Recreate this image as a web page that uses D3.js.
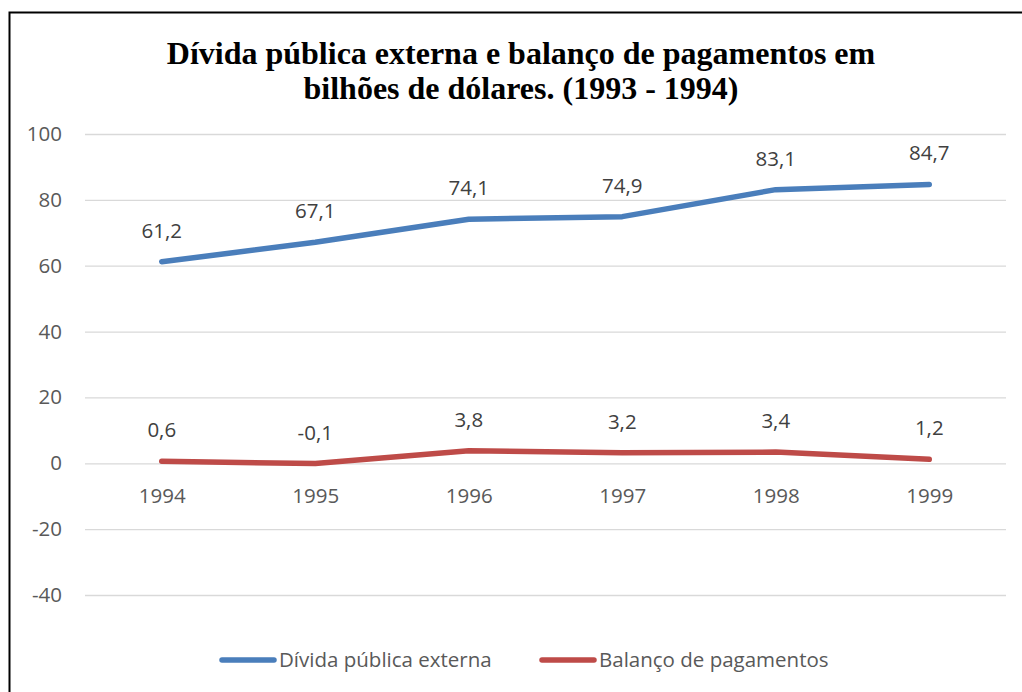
<!DOCTYPE html>
<html><head><meta charset="utf-8">
<script src="https://cdn.jsdelivr.net/npm/d3@7"></script>
<style>
html,body{margin:0;padding:0;background:#fff;}
svg{display:block;}
</style></head>
<body>
<svg id="chart" width="1022" height="692"></svg>
<script>
const years = ["1994","1995","1996","1997","1998","1999"];
const divida = [61.2, 67.1, 74.1, 74.9, 83.1, 84.7];
const balanco = [0.6, -0.1, 3.8, 3.2, 3.4, 1.2];
const yTicks = [-40, -20, 0, 20, 40, 60, 80, 100];
const seriesNames = ["Dívida pública externa", "Balanço de pagamentos"];
const titleLines = ["Dívida pública externa e balanço de pagamentos em", "bilhões de dólares. (1993 - 1994)"];

const colors = ["#4a7ebb", "#be4b48"];
const svg = d3.select("#chart");
const W = 1022, H = 692;
const fontSans = "'Open Sans', 'Noto Sans', sans-serif";
const fs = 20.5;

svg.append("rect").attr("x", 9.5).attr("y", 12.5).attr("width", W + 20).attr("height", H + 20)
  .attr("fill", "#fff").attr("stroke", "#000").attr("stroke-width", 2);

const x = d3.scalePoint().domain(years).range([85, 1006]).padding(0.5);
const y = d3.scaleLinear().domain([-40, 100]).range([595, 134]);

// title
svg.append("g").selectAll("text").data(titleLines).join("text")
  .attr("x", 521).attr("y", (d, i) => 64 + i * 35)
  .attr("text-anchor", "middle")
  .attr("font-family", "'Liberation Serif', 'Times New Roman', serif")
  .attr("font-weight", "bold").attr("font-size", 32).attr("fill", "#000")
  .text(d => d);

const hy = v => String(v).replace("\u2212", "-");

// grid + y axis
const yAxis = d3.axisLeft(y).tickValues(yTicks).tickSize(-(1006 - 85)).tickPadding(23).tickFormat(d => hy(d));
const gy = svg.append("g").attr("transform", "translate(85,0)").call(yAxis);
gy.select(".domain").remove();
gy.selectAll(".tick line").attr("stroke", "#d9d9d9").attr("stroke-width", 1.3);
gy.selectAll(".tick text").attr("fill", "#595959").attr("font-family", fontSans).attr("font-size", fs);

// x axis labels (category labels below zero line)
const xAxis = d3.axisBottom(x).tickSize(0).tickPadding(25);
const gx = svg.append("g").attr("transform", `translate(0,${y(0)})`).call(xAxis);
gx.select(".domain").remove();
gx.selectAll(".tick text").attr("fill", "#595959").attr("font-family", fontSans).attr("font-size", fs);

const line = d3.line().x((d, i) => x(years[i])).y(d => y(d));
const fmt = v => d3.format(".1f")(v).replace(".", ",").replace("\u2212", "-");

[divida, balanco].forEach((vals, si) => {
  svg.append("path").datum(vals).attr("d", line)
    .attr("fill", "none").attr("stroke", colors[si]).attr("stroke-width", 5.5)
    .attr("stroke-linecap", "round").attr("stroke-linejoin", "round");
  svg.append("g").selectAll("text").data(vals).join("text")
    .attr("x", (d, i) => x(years[i]))
    .attr("y", d => y(d) - 24)
    .attr("text-anchor", "middle")
    .attr("fill", "#404040").attr("font-family", fontSans).attr("font-size", fs)
    .text(d => fmt(d));
});

// legend
const legendX = [220, 540];
seriesNames.forEach((name, i) => {
  const g = svg.append("g");
  g.append("line").attr("x1", legendX[i] + 2).attr("x2", legendX[i] + 54)
    .attr("y1", 660).attr("y2", 660)
    .attr("stroke", colors[i]).attr("stroke-width", 5.5).attr("stroke-linecap", "round");
  g.append("text").attr("x", legendX[i] + 59).attr("y", 667)
    .attr("fill", "#595959").attr("font-family", fontSans).attr("font-size", fs)
    .text(name);
});
</script>
</body></html>
